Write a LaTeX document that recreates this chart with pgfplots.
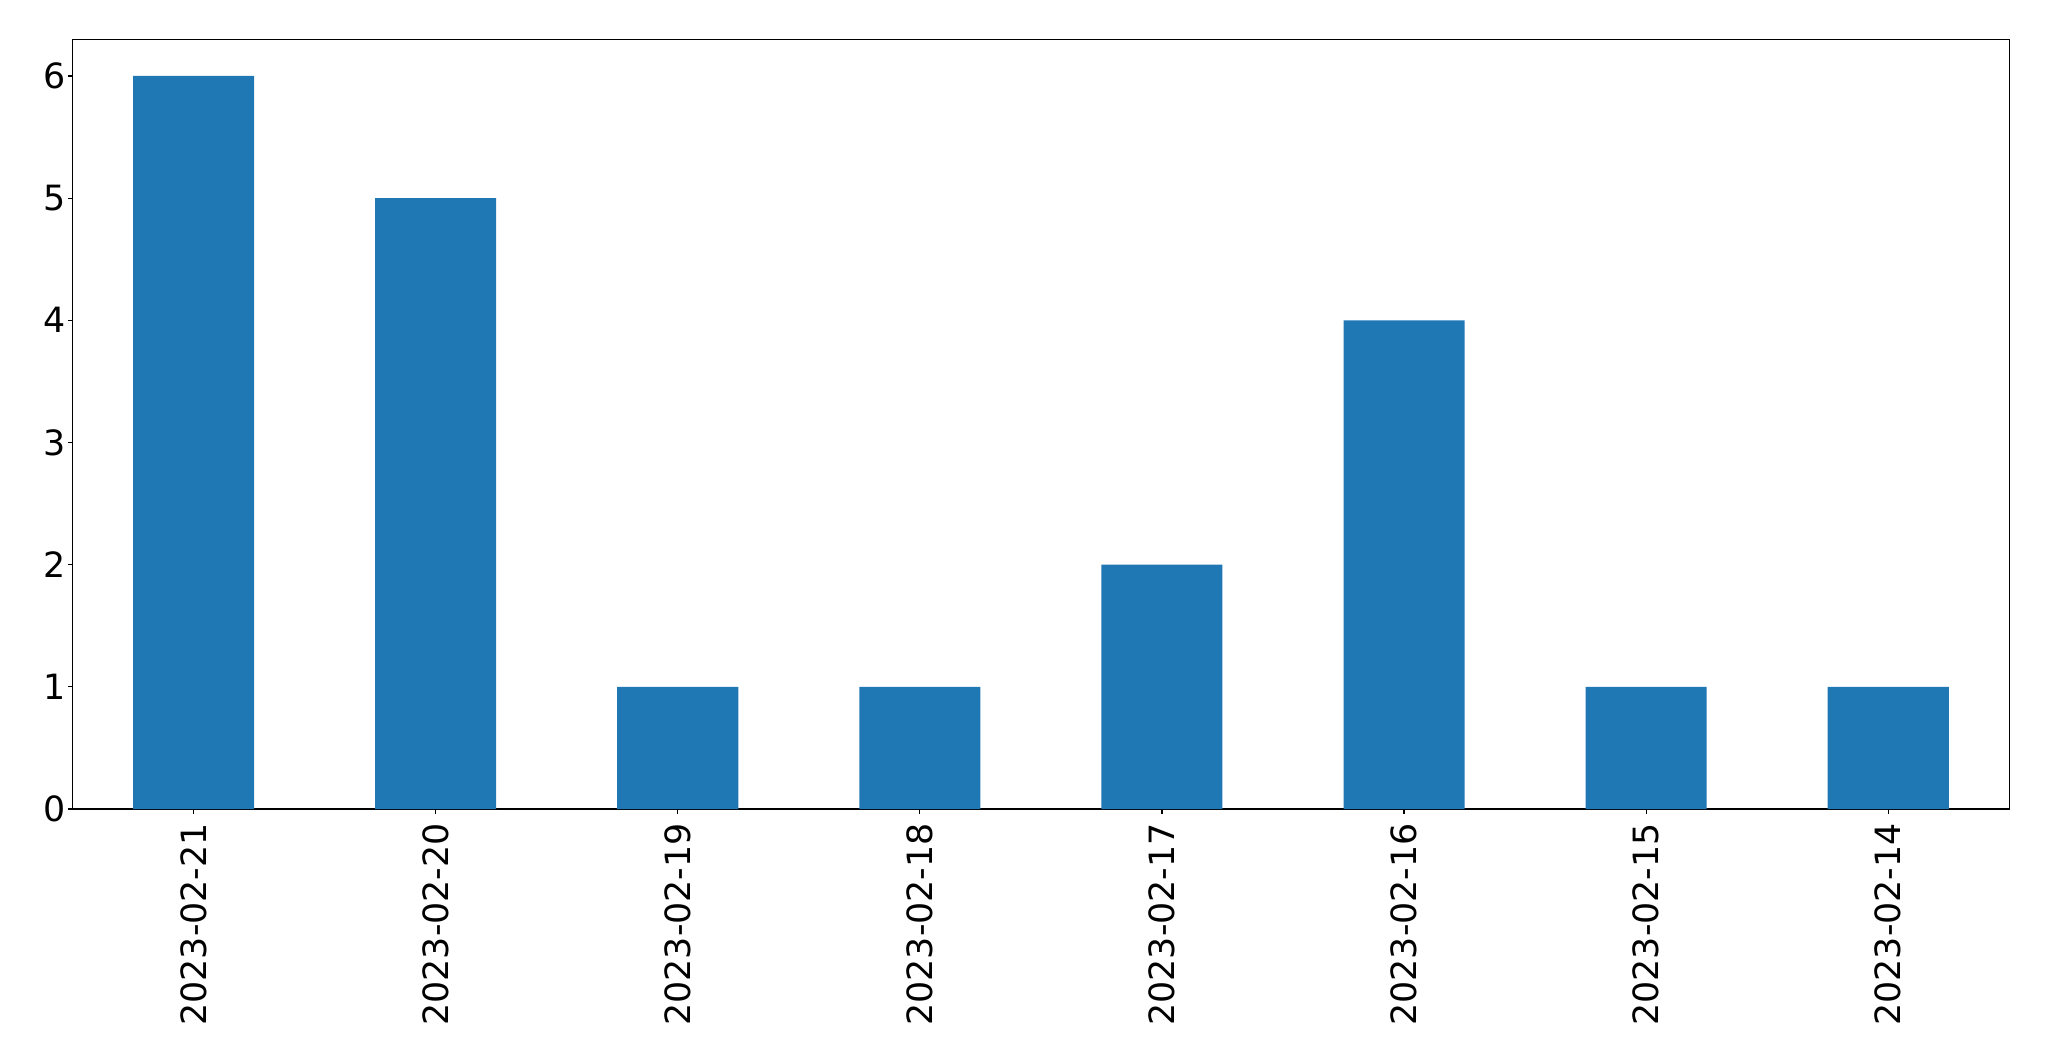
\documentclass[border=0pt]{standalone}
\usepackage{fontspec}
\setmainfont{DejaVu Sans}
\usepackage{pgfplots}
\pgfplotsset{compat=1.18}
\definecolor{mplblue}{HTML}{1F77B4}
\begin{document}
\begin{tikzpicture}
\begin{axis}[
  scale only axis,
  width=968.4pt, height=384.85pt,
  xmin=-0.5, xmax=7.5, ymin=0, ymax=6.3,
  axis line style={line width=0.6pt},
  tick style={line width=0.6pt, black},
  major tick length=2.4pt,
  tick align=outside,
  xtick pos=bottom, ytick pos=left,
  xtick={0,...,7},
  xticklabels={2023-02-21,2023-02-20,2023-02-19,2023-02-18,2023-02-17,2023-02-16,2023-02-15,2023-02-14},
  ytick={0,1,2,3,4,5,6},
  /pgf/number format/assume math mode=true,
  ticklabel style={font=\fontsize{17.4}{20}\selectfont},
  xticklabel style={rotate=90, anchor=east, inner sep=0pt, xshift=-4.5pt},
  yticklabel style={inner sep=0pt, xshift=-1pt},
  clip=false,
]
\addplot[ybar, bar width=0.5, fill=mplblue, draw=none] coordinates {
 (0,6) (1,5) (2,1) (3,1) (4,2) (5,4) (6,1) (7,1)
};
\end{axis}
\pgfresetboundingbox
\path (-36.25pt,-126pt) rectangle (988.25pt,404.5pt);
\end{tikzpicture}
\end{document}
